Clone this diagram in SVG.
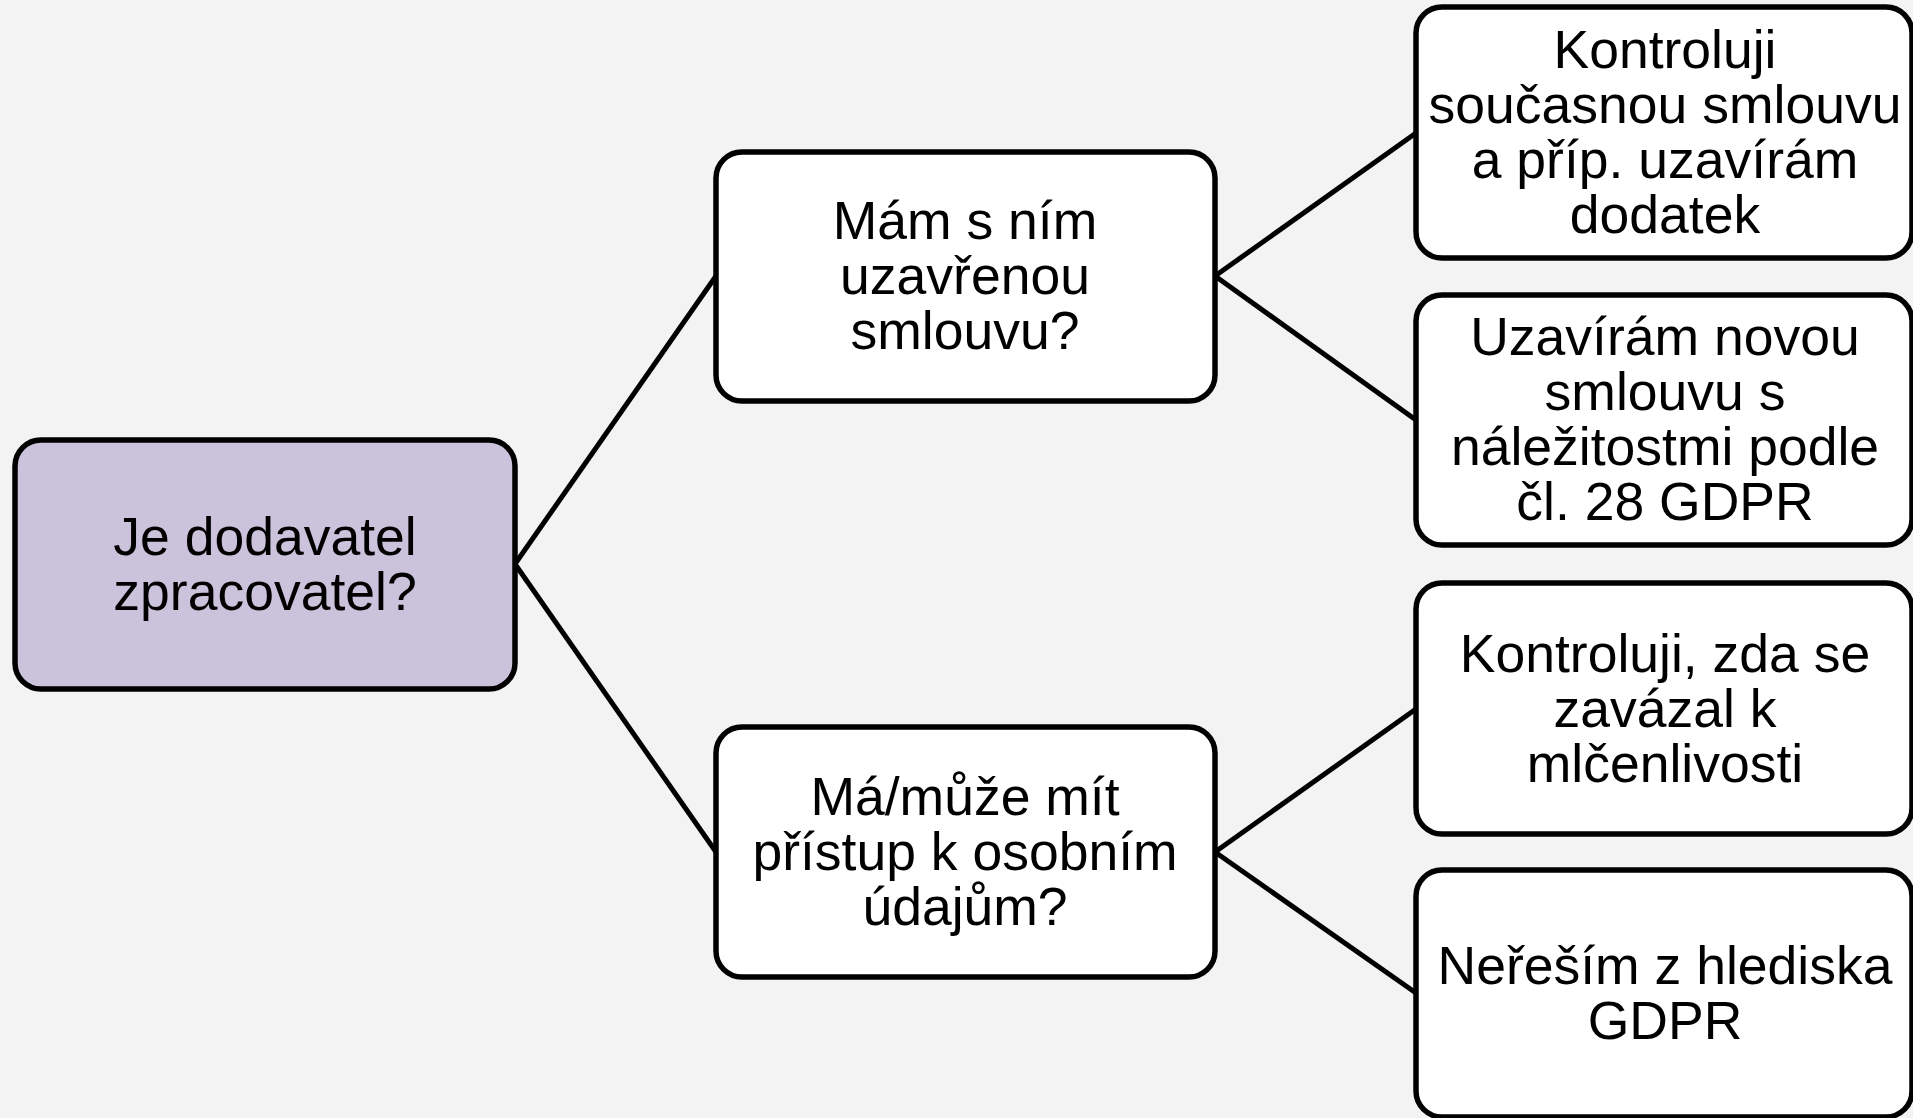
<svg xmlns="http://www.w3.org/2000/svg" width="1913" height="1118" viewBox="0 0 1913 1118">
<style>
.box{stroke:#000;stroke-width:5.5;fill:#fff}
.root{fill:#CBC3DB}
.t{font-family:"Liberation Sans",Arial,sans-serif;font-size:53.5px;fill:#000;text-anchor:middle}
.c{stroke:#000;stroke-width:5;fill:none}
</style>
<rect width="1913" height="1118" fill="#F3F3F3"/>
<g id="connectors">
<line class="c" x1="515" y1="564" x2="716" y2="276"/>
<line class="c" x1="515" y1="564" x2="716" y2="852"/>
<line class="c" x1="1215" y1="276" x2="1416" y2="133"/>
<line class="c" x1="1215" y1="276" x2="1416" y2="420"/>
<line class="c" x1="1215" y1="852" x2="1416" y2="709"/>
<line class="c" x1="1215" y1="852" x2="1416" y2="993"/>
</g>
<g id="root">
<rect class="box root" x="15" y="440" width="500" height="249" rx="26"/>
<text class="t" x="265" y="555">Je dodavatel</text>
<text class="t" x="265" y="610">zpracovatel?</text>
</g>
<g id="smlouva">
<rect class="box" x="716" y="152" width="499" height="249" rx="26"/>
<text class="t" x="965" y="239">Mám s ním</text>
<text class="t" x="965" y="294">uzavřenou</text>
<text class="t" x="965" y="349">smlouvu?</text>
</g>
<g id="pristup">
<rect class="box" x="716" y="727" width="499" height="250" rx="26"/>
<text class="t" x="965" y="815">Má/může mít</text>
<text class="t" x="965" y="870">přístup k osobním</text>
<text class="t" x="965" y="925">údajům?</text>
</g>
<g id="kontrola">
<rect class="box" x="1416" y="7" width="496" height="251" rx="26"/>
<text class="t" x="1665" y="68">Kontroluji</text>
<text class="t" x="1665" y="123">současnou smlouvu</text>
<text class="t" x="1665" y="178">a příp. uzavírám</text>
<text class="t" x="1665" y="233">dodatek</text>
</g>
<g id="nova">
<rect class="box" x="1416" y="295" width="496" height="250" rx="26"/>
<text class="t" x="1665" y="355">Uzavírám novou</text>
<text class="t" x="1665" y="410">smlouvu s</text>
<text class="t" x="1665" y="465">náležitostmi podle</text>
<text class="t" x="1665" y="520">čl. 28 GDPR</text>
</g>
<g id="mlcenlivost">
<rect class="box" x="1416" y="583" width="496" height="251" rx="26"/>
<text class="t" x="1665" y="672">Kontroluji, zda se</text>
<text class="t" x="1665" y="727">zavázal k</text>
<text class="t" x="1665" y="782">mlčenlivosti</text>
</g>
<g id="neresim">
<rect class="box" x="1416" y="870" width="496" height="247" rx="26"/>
<text class="t" x="1665" y="984">Neřeším z hlediska</text>
<text class="t" x="1665" y="1039">GDPR</text>
</g>
</svg>
